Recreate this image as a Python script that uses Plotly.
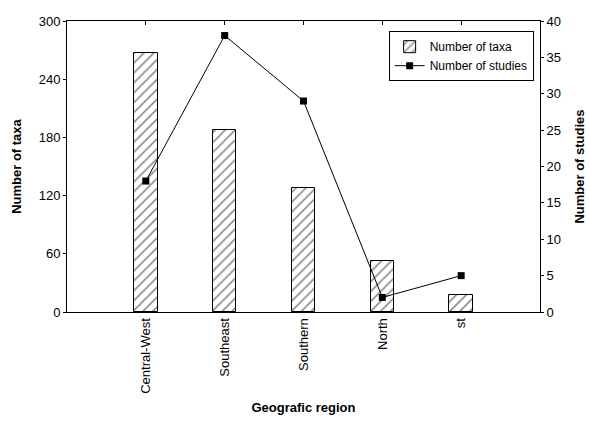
import plotly.graph_objects as go

regions = ["Central-West", "Southeast", "Southern", "North", "st"]
n_taxa = [267, 188, 128, 53, 18]
n_studies = [18, 38, 29, 2, 5]
taxa_ticks = [0, 60, 120, 180, 240, 300]
study_ticks = [0, 5, 10, 15, 20, 25, 30, 35, 40]

pos = list(range(len(regions)))
font = "Liberation Sans, Arial, sans-serif"

fig = go.Figure()
fig.add_trace(go.Bar(
    x=pos, y=n_taxa, name="Number of taxa", width=0.3,
    marker=dict(color="white", line=dict(color="black", width=1),
                pattern=dict(shape="/", fgcolor="black", bgcolor="white",
                             size=7, solidity=0.22)),
    yaxis="y",
))
fig.add_trace(go.Scatter(
    x=pos, y=n_studies, name="Number of studies", mode="lines+markers",
    line=dict(color="black", width=1),
    marker=dict(symbol="square", size=7, color="black"),
    yaxis="y2",
))
# invisible trace to carry the top tick axis
fig.add_trace(go.Scatter(x=pos, y=[None] * len(pos), xaxis="x2", yaxis="y",
                         showlegend=False, hoverinfo="skip"))

fig.update_layout(
    width=590, height=425,
    margin=dict(l=67, r=50, t=21, b=113),
    paper_bgcolor="white", plot_bgcolor="white",
    font=dict(family=font, size=13, color="black"),
    showlegend=True,
    legend=dict(x=0.68, y=0.965, xanchor="left", yanchor="top",
                bordercolor="black", borderwidth=1, bgcolor="white",
                font=dict(size=12), tracegroupgap=0, itemwidth=30),
    xaxis=dict(range=[-1, 5], tickvals=pos, ticktext=regions, tickangle=-90,
               showline=True, linecolor="black", linewidth=1, mirror=True,
               ticks="", showgrid=False, zeroline=False, automargin=False,
               title=dict(text="<b>Geografic region</b>", font=dict(size=13), standoff=10)),
    xaxis2=dict(range=[-1, 5], overlaying="x", side="top", tickvals=pos,
                showticklabels=False, ticks="inside", ticklen=4, tickcolor="black",
                showgrid=False, zeroline=False, showline=False, automargin=False),
    yaxis=dict(range=[0, 300], tickvals=taxa_ticks, showline=True, linecolor="black",
               linewidth=1, ticks="outside", ticklen=3, tickcolor="black",
               showgrid=False, zeroline=False, automargin=False,
               title=dict(text="<b>Number of taxa</b>", font=dict(size=13), standoff=14)),
    yaxis2=dict(range=[0, 40], tickvals=study_ticks, overlaying="y", side="right",
                showline=True, linecolor="black", linewidth=1, ticks="outside",
                ticklen=3, tickcolor="black", showgrid=False, zeroline=False,
                automargin=False,
                title=dict(text="<b>Number of studies</b>", font=dict(size=13), standoff=14)),
    bargap=0,
)

fig.write_html("out.html")
